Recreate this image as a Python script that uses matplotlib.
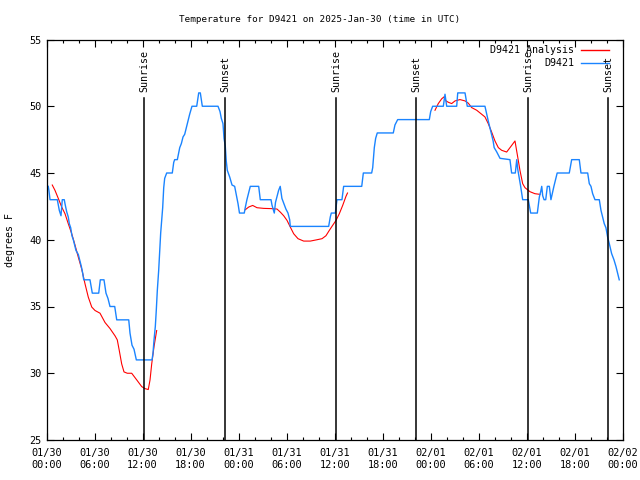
import numpy as np
import matplotlib
matplotlib.use("Agg")
import matplotlib.pyplot as plt

# Data: hours since 2025-01-30 00:00 UTC
obs_hours = [0.22, 0.30, 0.44, 1.35, 1.60, 1.81, 1.97, 2.22, 2.31, 2.52, 2.72, 2.85,
             3.02, 3.18, 3.35, 3.68, 3.97, 4.35, 4.52, 4.65, 5.43, 5.72, 6.52, 6.72,
             7.18, 7.43, 7.68, 7.93, 8.52, 8.77, 10.27, 10.43, 10.68, 10.93, 11.22, 13.18,
             13.30, 13.43, 13.59, 13.71, 13.84, 14.01, 14.14, 14.26, 14.39, 14.51, 14.64, 14.76,
             15.01, 15.71, 15.89, 16.01, 16.34, 16.64, 16.84, 17.05, 17.26, 17.67, 17.88, 18.17,
             18.76, 19.01, 19.21, 19.46, 21.42, 21.67, 21.83, 22.04, 22.17, 22.33, 22.45, 22.58,
             22.88, 23.17, 23.50, 23.75, 23.92, 24.10, 24.70, 24.82, 25.03, 25.45, 26.50, 26.70,
             28.04, 28.16, 28.45, 28.60, 28.99, 29.19, 29.40, 29.90, 30.16, 30.37, 30.45, 35.24,
             35.44, 35.57, 36.07, 36.19, 36.28, 36.90, 37.11, 39.37, 39.57, 40.61, 40.74, 40.94,
             41.11, 41.31, 43.31, 43.52, 43.86, 47.81, 47.98, 48.23, 49.56, 49.77, 49.98, 51.23,
             51.36, 52.27, 52.55, 54.76, 55.17, 55.38, 55.58, 55.78, 55.91, 56.21, 56.64, 57.88,
             58.09, 58.55, 58.73, 58.85, 59.22, 59.47, 60.17, 60.47, 61.30, 61.55, 61.72, 61.85,
             61.97, 62.14, 62.35, 62.55, 62.80, 63.00, 63.37, 63.58, 63.78, 65.29, 65.59, 66.54,
             66.75, 67.59, 67.79, 68.00, 68.21, 68.50, 69.04, 69.25, 69.66, 69.87, 70.08, 70.29,
             70.58, 70.87, 71.12, 71.53]
obs_temps = [44.0, 43.7, 43.0, 43.0, 42.2, 41.8, 43.0, 43.0, 42.7, 42.1, 41.7, 41.2,
             40.9, 40.3, 40.0, 39.2, 38.9, 38.0, 37.5, 37.0, 37.0, 36.0, 36.0, 37.0,
             37.0, 36.0, 35.6, 35.0, 35.0, 34.0, 34.0, 33.0, 32.1, 31.8, 31.0, 31.0,
             31.5, 32.5, 33.5, 34.7, 36.2, 37.7, 39.2, 40.5, 41.5, 42.4, 43.9, 44.6,
             45.0, 45.0, 45.8, 46.0, 46.0, 46.9, 47.2, 47.7, 47.9, 48.9, 49.4, 50.0,
             50.0, 51.0, 51.0, 50.0, 50.0, 49.6, 49.1, 48.7, 47.6, 47.0, 45.9, 45.2,
             44.7, 44.1, 44.0, 43.2, 42.7, 42.0, 42.0, 42.4, 43.0, 44.0, 44.0, 43.0,
             43.0, 42.6, 42.0, 42.8, 43.7, 44.0, 43.1, 42.3, 42.0, 41.5, 41.0, 41.0,
             41.7, 42.0, 42.0, 42.6, 43.0, 43.0, 44.0, 44.0, 45.0, 45.0, 45.4, 46.9,
             47.6, 48.0, 48.0, 48.6, 49.0, 49.0, 49.6, 50.0, 50.0, 50.9, 50.0, 50.0,
             51.0, 51.0, 50.0, 50.0, 48.9, 48.4, 47.9, 47.4, 46.9, 46.6, 46.1, 46.0,
             45.0, 45.0, 46.0, 45.3, 44.0, 43.0, 43.0, 42.0, 42.0, 43.2, 43.6, 44.0,
             43.3, 43.0, 43.0, 44.0, 44.0, 43.0, 44.0, 44.5, 45.0, 45.0, 46.0, 46.0,
             45.0, 45.0, 44.2, 44.0, 43.45, 43.0, 43.0, 42.2, 41.2, 40.9, 40.2, 39.7,
             38.96, 38.5, 38.0, 37.0]

nan = float("nan")
ana_hours = [0.72, 1.06, 1.47, 1.90, 2.31, 2.72, 3.15, 3.56, 3.97, 4.40, 4.81, 5.22,
             5.65, 6.06, 6.68, 7.31, 7.93, 8.56, 8.84, 9.09, 9.39, 9.68, 10.09, 10.64,
             11.27, 11.89, 12.30, 12.71, 12.93, 13.14, 13.43, 13.76, nan,
             24.83, 25.25, 25.75, 26.29, 27.13, 28.16, 28.79, 29.20, 29.62, 30.04, 30.45, 30.87,
             31.41, 32.12, 32.95, 33.78, 34.41, 34.90, 35.32, 35.74, 36.16, 36.57, 36.99, 37.40,
             37.59, nan,
             48.52, 48.93, 49.36, 49.64, 49.89, 50.18, 50.60, 51.02, 51.64, 52.27, 52.68, 53.10,
             53.73, 54.35, 54.76, 55.17, 55.60, 56.01, 56.43, 56.85, 57.47, 58.10, 58.51, 58.92,
             59.13, 59.47, 59.76, 60.38, 61.00, 61.63]
ana_temps = [44.1, 43.7, 43.1, 42.45, 41.95, 41.2, 40.45, 39.6, 38.7, 37.8, 36.7, 35.7,
             34.96, 34.7, 34.5, 33.8, 33.35, 32.8, 32.5, 31.7, 30.7, 30.1, 30.0, 30.0,
             29.5, 29.0, 28.85, 28.78, 29.5, 30.7, 32.0, 33.2, nan,
             42.25, 42.45, 42.57, 42.4, 42.35, 42.33, 42.3, 42.07, 41.8, 41.45, 40.95, 40.45,
             40.08, 39.9, 39.9, 40.0, 40.08, 40.3, 40.7, 41.08, 41.45, 41.95, 42.57, 43.25,
             43.5, nan,
             49.7, 50.2, 50.56, 50.7, 50.4, 50.3, 50.2, 50.4, 50.5, 50.4, 50.23, 49.9,
             49.7, 49.4, 49.2, 48.7, 48.06, 47.4, 46.9, 46.7, 46.57, 47.07, 47.4, 45.95,
             45.2, 44.2, 43.9, 43.6, 43.45, 43.4]

sun_hours = [12.21, 22.33, 36.19, 46.18, 60.17, 70.16]
sun_labels = ['Sunrise', 'Sunset', 'Sunrise', 'Sunset', 'Sunrise', 'Sunset']

tick_hours = list(range(0, 73, 6))
tick_labels = ['01/30\n00:00', '01/30\n06:00', '01/30\n12:00', '01/30\n18:00',
               '01/31\n00:00', '01/31\n06:00', '01/31\n12:00', '01/31\n18:00',
               '02/01\n00:00', '02/01\n06:00', '02/01\n12:00', '02/01\n18:00',
               '02/02\n00:00']

plt.rcParams['font.family'] = ['DejaVu Sans Mono']
plt.rcParams['font.size'] = 7.0

fig = plt.figure(figsize=(6.4, 4.8), dpi=100)
ax = fig.add_axes([46.5 / 640, 40 / 480, 576.5 / 640, 400.5 / 480])

red = '#ff0000'
blue = '#1a84ff'
ax.plot(ana_hours, ana_temps, color=red, lw=0.8)
ax.plot(obs_hours, obs_temps, color=blue, lw=1.0)

for h, lab in zip(sun_hours, sun_labels):
    ax.axvline(h, ymin=0, ymax=0.853, color='black', lw=1.1)
    ax.text(h, 0.868, lab, transform=ax.get_xaxis_transform(), rotation=90,
            ha='center', va='bottom', fontsize=7.2)

ax.set_xlim(0, 72)
ax.set_ylim(25, 55)
ax.set_xticks(tick_hours)
ax.set_xticklabels(tick_labels)
ax.set_xticks(range(0, 73, 2), minor=True)
ax.set_yticks(range(25, 56, 5))
ax.tick_params(direction='in', top=True, right=True, length=5, width=0.8,
               labelsize=7.4)
ax.tick_params(which='minor', direction='in', top=True, length=2.5, width=0.8)
ax.tick_params(axis='x', pad=6)
for s in ax.spines.values():
    s.set_linewidth(0.9)

fig.text(0.5, 1 - 20 / 480, 'Temperature for D9421 on 2025-Jan-30 (time in UTC)',
         ha='center', va='center', fontsize=6.7)
ax.set_ylabel('degrees F', fontsize=7.2, labelpad=10)

# legend, gnuplot style (text right-aligned, sample to the right)
leg_rows = [('D9421 Analysis', red, 0.974), ('D9421', blue, 0.942)]
for lab, col, yy in leg_rows:
    ax.text(0.915, yy, lab, transform=ax.transAxes, ha='right', va='center', fontsize=7.2)
    ax.plot([0.927, 0.976], [yy, yy], transform=ax.transAxes, color=col, lw=1.0)

fig.savefig('out.png', dpi=100)
